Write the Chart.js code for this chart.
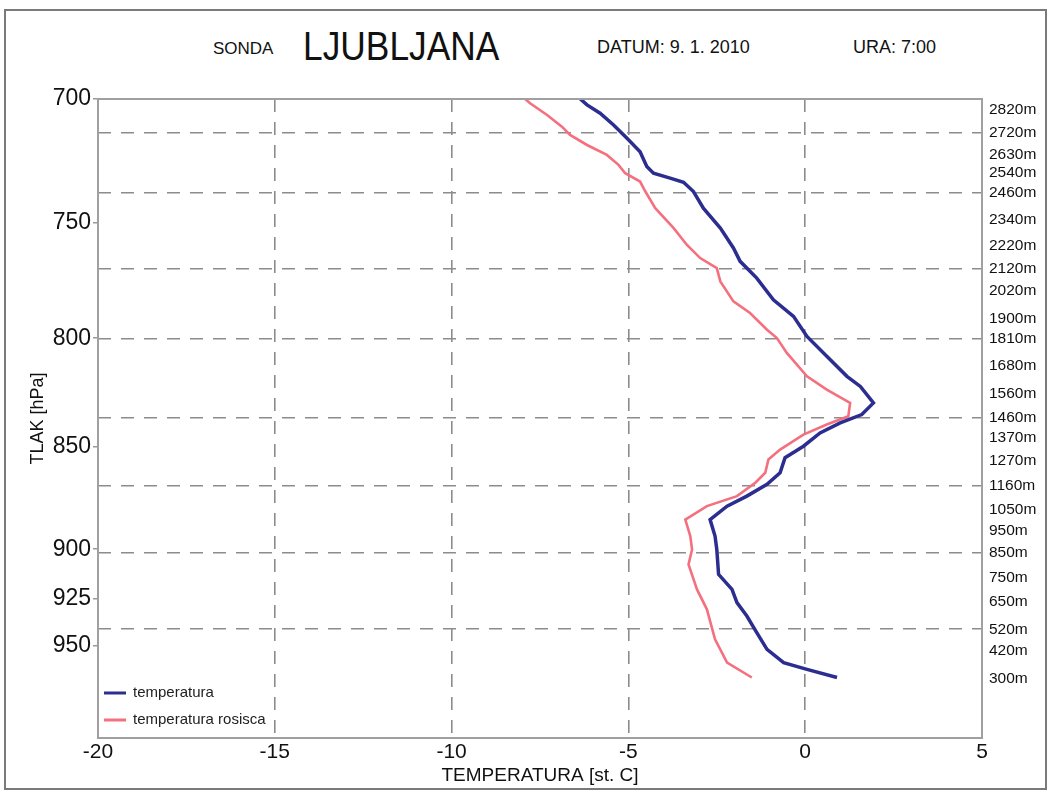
<!DOCTYPE html>
<html>
<head>
<meta charset="utf-8">
<script src="https://cdn.jsdelivr.net/npm/chart.js"></script>
<style>
  body { margin: 0; background: #fff; }
  #wrap { position: relative; width: 1051px; height: 799px; font-family: Arial, "Liberation Sans", sans-serif; }
  #frame { position: absolute; left: 4px; top: 9px; width: 1039px; height: 777px; border: 2px solid #7a7a7a; }
  .head { position: absolute; color: #111; white-space: nowrap; line-height: 1; transform-origin: left center; }
  canvas { position: absolute; left: 0; top: 0; }
</style>
</head>
<body>
<div id="wrap">
  <div id="frame"></div>
  <div class="head" style="left:213px; top:40px; font-size:17px;">SONDA</div>
  <div class="head" style="left:303px; top:27px; font-size:38px; transform: scale(0.93, 1.05);">LJUBLJANA</div>
  <div class="head" style="left:597px; top:38px; font-size:18px;">DATUM: 9. 1. 2010</div>
  <div class="head" style="left:853px; top:38px; font-size:18px;">URA: 7:00</div>
  <canvas id="myChart" width="1051" height="799"></canvas>
</div>
<script>
// temperatura (blue)
const tempPressure = [700, 702.3, 705.6, 710.2, 715.5, 720.9, 726.9, 729.6, 731.6, 733.3,
  737.1, 744.0, 752.3, 760.7, 766.4, 773.6, 783.0, 790.3, 799.2, 808.1,
  817.2, 821.8, 829.4, 834.8, 838.7, 843.4, 849.7, 855.2, 862.4, 868.0,
  873.7, 878.6, 885.2, 893.4, 900.1, 912.7, 920.4, 927.2, 934.2, 942.9,
  951.7, 958.8, 962.4, 966.8];
const tempValues = [-6.36, -6.17, -5.80, -5.42, -5.04, -4.67, -4.48, -4.29, -3.82, -3.44,
  -3.16, -2.88, -2.40, -2.03, -1.84, -1.37, -0.90, -0.33, 0.05, 0.61,
  1.18, 1.56, 1.93, 1.60, 0.99, 0.42, -0.05, -0.57, -0.71, -1.08,
  -1.65, -2.21, -2.69, -2.55, -2.50, -2.45, -2.07, -1.93, -1.65, -1.37,
  -1.08, -0.61, 0.05, 0.90];

// temperatura rosisca (red)
const dewPressure = [700, 701.7, 706.3, 710.9, 714.2, 718.2, 722.2, 726.2, 729.6, 733.0,
  737.1, 744.0, 752.3, 759.3, 765.0, 769.3, 775.0, 783.7, 788.8, 796.2,
  799.9, 806.6, 817.2, 823.3, 829.4, 835.6, 839.5, 844.2, 851.3, 856.0,
  862.4, 867.2, 873.7, 878.6, 885.2, 893.4, 900.1, 907.7, 920.4, 930.7,
  946.4, 958.8, 966.8];
const dewValues = [-7.92, -7.78, -7.30, -6.88, -6.65, -6.17, -5.61, -5.28, -5.09, -4.67,
  -4.52, -4.24, -3.72, -3.35, -2.97, -2.50, -2.40, -2.03, -1.56, -1.08,
  -0.80, -0.52, 0.05, 0.61, 1.27, 1.22, 0.61, -0.05, -0.71, -1.04,
  -1.13, -1.41, -1.93, -2.78, -3.39, -3.25, -3.20, -3.30, -3.06, -2.78,
  -2.55, -2.21, -1.51];

// left axis ticks (hPa)
const pressureTicks = [700, 750, 800, 850, 900, 925, 950];

// right axis: heights and the pressure where each is marked
const heightLabels = ['2820m', '2720m', '2630m', '2540m', '2460m', '2340m', '2220m', '2120m', '2020m', '1900m',
  '1810m', '1680m', '1560m', '1460m', '1370m', '1270m', '1160m', '1050m', '950m', '850m',
  '750m', '650m', '520m', '420m', '300m'];
const heightPressure = [704.3, 713.4, 722.2, 729.5, 737.7, 748.8, 759.8, 769.6, 779.1, 791.3,
  800.2, 812.3, 825.1, 836.2, 845.6, 856.5, 868.5, 880.2, 890.6, 901.6,
  914.2, 926.6, 941.1, 952.7, 967.7];

const gridGray = '#8c8c8c';
const noColor = 'rgba(0,0,0,0)';

Chart.defaults.font.family = 'Arial, "Liberation Sans", sans-serif';
Chart.defaults.color = '#111';

// frame around plot area + small legend in lower left corner
const framePlugin = {
  id: 'frameAndLegend',
  afterDatasetsDraw(chart) {
    const ctx = chart.ctx;
    const a = chart.chartArea;
    ctx.save();
    ctx.strokeStyle = '#a0a0a0';
    ctx.lineWidth = 2;
    ctx.strokeRect(a.left, a.top, a.right - a.left, a.bottom - a.top);
    ctx.font = '15px Arial, "Liberation Sans", sans-serif';
    ctx.textBaseline = 'middle';
    chart.data.datasets.forEach((ds, i) => {
      const y = a.bottom - 45 + i * 27;
      ctx.strokeStyle = ds.borderColor;
      ctx.lineWidth = 3;
      ctx.beginPath();
      ctx.moveTo(a.left + 6, y);
      ctx.lineTo(a.left + 28, y);
      ctx.stroke();
      ctx.fillStyle = '#222';
      ctx.fillText(ds.label, a.left + 35, y);
    });
    ctx.restore();
  }
};

const data = {
  datasets: [{
    label: 'temperatura',
    data: tempPressure.map((p, i) => ({x: tempValues[i], y: p})),
    borderColor: '#2b2e8f',
    borderWidth: 3.5,
    pointRadius: 0,
    tension: 0,
    yAxisID: 'y'
  },
  {
    label: 'temperatura rosisca',
    data: dewPressure.map((p, i) => ({x: dewValues[i], y: p})),
    borderColor: '#f4707e',
    borderWidth: 2.6,
    pointRadius: 0,
    tension: 0,
    yAxisID: 'y'
  }]
};

const config = {
  type: 'line',
  data: data,
  options: {
    responsive: false,
    animation: false,
    layout: { padding: { top: 99, left: 0, right: 0, bottom: 0 } },
    plugins: { legend: { display: false }, tooltip: { enabled: false } },
    scales: {
      x: {
        type: 'linear', min: -20, max: 5,
        afterFit: s => { s.height = 61; },
        ticks: { stepSize: 5, maxRotation: 0, font: { size: 21 }, padding: 2 },
        grid: {
          color: c => (c.tick && (c.tick.value === -20 || c.tick.value === 5)) ? noColor : gridGray,
          lineWidth: 1.6, drawTicks: false
        },
        border: { display: false, dash: [13, 10] },
        title: { display: true, text: 'TEMPERATURA [st. C]', font: { size: 19 }, padding: { top: 0, bottom: 12 } }
      },
      y: {
        type: 'logarithmic', position: 'left', min: 700, max: 1000, reverse: true,
        afterBuildTicks: s => { s.ticks = pressureTicks.map(v => ({value: v})); },
        afterFit: s => { s.width = 98; },
        ticks: { callback: v => String(v), autoSkip: false, font: { size: 23 }, padding: 2 },
        grid: { drawOnChartArea: false, tickLength: 5, tickColor: '#999', lineWidth: 1.5 },
        border: { display: false },
        title: { display: true, text: 'TLAK [hPa]', font: { size: 18 }, padding: { top: 27, bottom: 0 } }
      },
      y2: {
        type: 'logarithmic', position: 'right', min: 700, max: 1000, reverse: true,
        afterBuildTicks: s => { s.ticks = heightPressure.map(v => ({value: v})); },
        afterFit: s => { s.width = 69; },
        ticks: { callback: (v, i) => heightLabels[i], autoSkip: false, font: { size: 15.5 }, padding: 7 },
        grid: { color: c => c.index % 3 === 1 ? gridGray : noColor, lineWidth: 1.6, drawTicks: false },
        border: { display: false, dash: [13, 10] }
      }
    }
  },
  plugins: [framePlugin]
};

const myChart = new Chart(document.getElementById('myChart'), config);
</script>
</body>
</html>
